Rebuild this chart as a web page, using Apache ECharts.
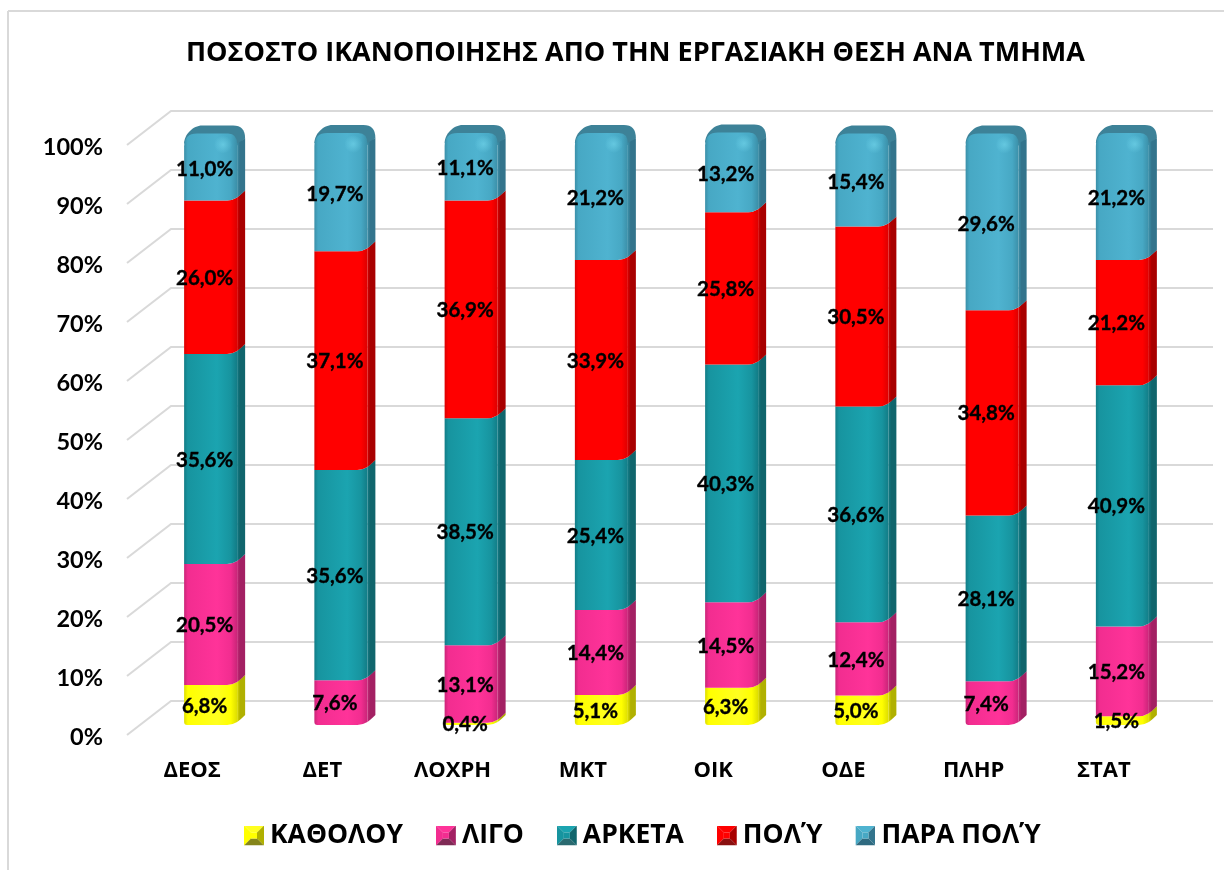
<!DOCTYPE html>
<html>
<head>
<meta charset="utf-8">
<style>html,body{margin:0;padding:0;background:#fff}#c{width:1224px;height:870px}</style>
<script src="https://cdn.jsdelivr.net/npm/echarts@6/dist/echarts.min.js"></script>
</head>
<body>
<div id="c"></div>
<script>
const titleText = 'ΠΟΣΟΣΤΟ ΙΚΑΝΟΠΟΙΗΣΗΣ ΑΠΟ ΤΗΝ ΕΡΓΑΣΙΑΚΗ ΘΕΣΗ ΑΝΑ ΤΜΗΜΑ';
const categories = ['ΔΕΟΣ','ΔΕΤ','ΛΟΧΡΗ','ΜΚΤ','ΟΙΚ','ΟΔΕ','ΠΛΗΡ','ΣΤΑΤ'];
const seriesNames = ['ΚΑΘΟΛΟΥ','ΛΙΓΟ','ΑΡΚΕΤΑ','ΠΟΛΎ','ΠΑΡΑ ΠΟΛΎ'];
const katholou = [6.8, 0, 0.4, 5.1, 6.3, 5.0, 0, 1.5];
const ligo     = [20.5, 7.6, 13.1, 14.4, 14.5, 12.4, 7.4, 15.2];
const arketa   = [35.6, 35.6, 38.5, 25.4, 40.3, 36.6, 28.1, 40.9];
const poly     = [26.0, 37.1, 36.9, 33.9, 25.8, 30.5, 34.8, 21.2];
const paraPoly = [11.0, 19.7, 11.1, 21.2, 13.2, 15.4, 29.6, 21.2];
const valueTicks = [0,10,20,30,40,50,60,70,80,90,100];

const allValues = [katholou, ligo, arketa, poly, paraPoly];
const palette = [
  {front:'#FFFF00', light:'#FFFF20', edge:'#DDDD00', side:'#B0B000', bevel:'#85851A'},
  {front:'#F22D90', light:'#FF3399', edge:'#C92578', side:'#A32063', bevel:'#7F2A55'},
  {front:'#17949F', light:'#1BA4B0', edge:'#127C86', side:'#10656C', bevel:'#2A6A70'},
  {front:'#FF0000', light:'#FF0000', edge:'#DC0000', side:'#A80000', bevel:'#8A1010'},
  {front:'#47A8C4', light:'#4FB3D0', edge:'#3B8FA8', side:'#33748C', bevel:'#2F6A80'}
];
const capColor = '#3D8298';
const gridColor = '#D9D9D9';
const FONT = 'Lato, "Open Sans", "Noto Sans", sans-serif';
const GREEK = '"Open Sans", "Noto Sans", sans-serif';

const WALL_DX = 44, WALL_DY = -34;   // depth of the back wall
const BAR_DX = 18.5, BAR_DY = -10;   // bar front plane relative to the floor front
const BAR_FRAC = 0.407;              // bar front width as a share of the band
const SIDE_X = 8, SIDE_Y = 10;

function renderWall(params, api) {
  const cs = params.coordSys;
  const y = api.coord([0, api.value(1)])[1];
  const x0 = cs.x;
  const x1 = cs.x + cs.width;
  return {
    type: 'polyline',
    shape: {points: [[x0, y], [x0 + WALL_DX, y + WALL_DY], [x1 + WALL_DX, y + WALL_DY]]},
    style: {stroke: gridColor, lineWidth: 2, fill: null},
    silent: true
  };
}

function makeRender(si) {
  return function (params, api) {
    const value = api.value(3);
    if (!value) return null;
    const c = palette[si];
    const band = api.size([1, 0])[0];
    const cat = api.value(0);
    const w = band * BAR_FRAC;
    const pA = api.coord([cat, api.value(1)]);
    const pB = api.coord([cat, api.value(2)]);
    const cx = pA[0] + BAR_DX;
    const xl = cx - w / 2, xr = cx + w / 2, xs = xr + SIDE_X;
    const ya = pA[1] + BAR_DY, yb = pB[1] + BAR_DY;
    const atFloor = api.value(1) === 0;
    const isTop = si === seriesNames.length - 1;
    const children = [];
    const frontFill = {type:'linear',x:0,y:0,x2:1,y2:0,colorStops:[
      {offset:0,color:c.edge},{offset:0.07,color:c.front},{offset:0.62,color:c.light},
      {offset:0.88,color:c.front},{offset:1,color:c.edge}]};
    const sideFill = {type:'linear',x:0,y:0,x2:1,y2:0,colorStops:[
      {offset:0,color:c.edge},{offset:0.35,color:c.side},{offset:1,color:c.side}]};
    // top cap
    if (isTop) {
      children.push({type:'path', shape:{pathData:
        `M${xl} ${yb+8} C${xl} ${yb-1} ${xl+9} ${yb-10} ${xl+18} ${yb-10} L${xr-4} ${yb-10} Q${xs} ${yb-10} ${xs} ${yb+3} L${xr} ${yb+10} Z`},
        style:{fill:capColor}, z2:1});
    }
    // side face
    const sideTopL = isTop ? yb + 8 : yb - 3;
    const sideTopR = isTop ? yb + 3 : yb - SIDE_Y;
    children.push({type:'path', shape:{pathData:
      `M${xr} ${ya-3} Q${xr+3} ${ya-5} ${xs} ${ya-SIDE_Y} L${xs} ${sideTopR} L${xr} ${sideTopL} Z`},
      style:{fill:sideFill}, z2:2});
    // front face
    const yf = isTop ? yb - 2 : yb;
    let d = atFloor
      ? `M${xl} ${ya-3} Q${xl} ${ya} ${xl+3} ${ya} L${xr-10} ${ya} Q${xr-5} ${ya} ${xr} ${ya-3}`
      : `M${xl} ${ya} L${xr-10} ${ya} Q${xr-5} ${ya} ${xr} ${ya-3}`;
    d += isTop
      ? ` L${xr} ${yb+9} Q${xr} ${yf} ${xr-9} ${yf} L${xl+13} ${yf} Q${xl} ${yf} ${xl} ${yb+11} Z`
      : ` L${xr} ${yb-3} Q${xr-5} ${yb} ${xr-10} ${yb} L${xl} ${yb} Z`;
    children.push({type:'path', shape:{pathData:d}, style:{fill:frontFill}, z2:3});
    if (isTop) {
      // soft shine on the rounded shoulder
      children.push({type:'circle', silent:true, z2:4,
        shape:{cx: xr - 14, cy: yb + 9, r: 9},
        style:{fill:{type:'radial',x:0.5,y:0.5,r:0.5,colorStops:[
          {offset:0,color:'rgba(125,225,245,0.5)'},{offset:1,color:'rgba(125,225,245,0)'}]}}});
    }
    // value label
    children.push({type:'text', z2:50, silent:true, style:{
      x: cx - 6, y: (ya + yb) / 2 + 1,
      text: value.toFixed(1).replace('.', ',') + '%',
      align:'center', verticalAlign:'middle',
      font: 'bold 20.5px ' + FONT, fill:'#000', stroke:'#000', lineWidth:0.35}});
    return {type:'group', children};
  };
}

function bevelIcon(c) {
  const svg = `<svg xmlns="http://www.w3.org/2000/svg" width="20" height="20">`
    + `<polygon points="0,0 20,0 13,7 7,7" fill="${c.light}"/>`
    + `<polygon points="0,0 7,7 7,13 0,20" fill="${c.front}"/>`
    + `<polygon points="20,0 20,20 13,13 13,7" fill="${c.side}"/>`
    + `<polygon points="0,20 20,20 13,13 7,13" fill="${c.bevel}"/>`
    + `<rect x="7" y="7" width="6" height="6" fill="${c.front}"/></svg>`;
  return 'image://data:image/svg+xml;charset=utf-8,' + encodeURIComponent(svg);
}

const running = categories.map(() => 0);
const stackSeries = seriesNames.map((name, si) => ({
  name, type:'custom', coordinateSystem:'cartesian2d',
  renderItem: makeRender(si),
  itemStyle:{color: palette[si].front},
  encode:{x:0, y:[1,2]},
  data: categories.map((_, i) => {
    const start = running[i];
    running[i] = +(start + allValues[si][i]).toFixed(1);
    return [i, start, running[i], allValues[si][i]];
  }),
  z:3
}));

const chart = echarts.init(document.getElementById('c'), null, {renderer:'canvas'});
chart.setOption({
  animation:false,
  backgroundColor:'#fff',
  title:{text:titleText, left:181, top:35,
    textStyle:{fontFamily:GREEK, fontWeight:'bold', fontSize:27, color:'#000'}},
  grid:[
    {left:127, width:1042, top:145, height:590, containLabel:false},
    {left:127, width:1042, top:147.5, height:590, containLabel:false}
  ],
  xAxis:[
    {type:'category', data:categories, gridIndex:0,
     axisLine:{show:false}, axisTick:{show:false}, splitLine:{show:false},
     axisLabel:{margin:25, color:'#000', fontFamily:GREEK, fontWeight:'bold', fontSize:22}},
    {type:'category', data:categories, gridIndex:1, show:false}
  ],
  yAxis:[
    {type:'value', min:0, max:100, interval:10, gridIndex:0, show:false},
    {type:'value', min:0, max:100, interval:10, gridIndex:1,
     axisLine:{show:false}, axisTick:{show:false}, splitLine:{show:false},
     axisLabel:{margin:24, color:'#000', fontFamily:FONT, fontWeight:'bold', fontSize:23.5,
       formatter:'{value}%'}}
  ],
  legend:{left:239, top:817, itemWidth:20, itemHeight:20, itemGap:33, selectedMode:false,
    data: seriesNames.map((name, i) => ({name, icon:bevelIcon(palette[i])})),
    textStyle:{fontFamily:GREEK, fontWeight:'bold', fontSize:26.5, color:'#000', padding:[0,0,0,1]}},
  graphic:[
    {type:'line', shape:{x1:8,y1:11,x2:1224,y2:11}, style:{stroke:gridColor,lineWidth:2}, silent:true},
    {type:'line', shape:{x1:8,y1:11,x2:8,y2:870}, style:{stroke:gridColor,lineWidth:2}, silent:true}
  ],
  series:[
    {name:'grid', type:'custom', coordinateSystem:'cartesian2d', renderItem:renderWall,
     encode:{x:0,y:1}, silent:true, z:1,
     data: valueTicks.map(v => [0, v])},
    ...stackSeries
  ]
});
</script>
</body>
</html>
